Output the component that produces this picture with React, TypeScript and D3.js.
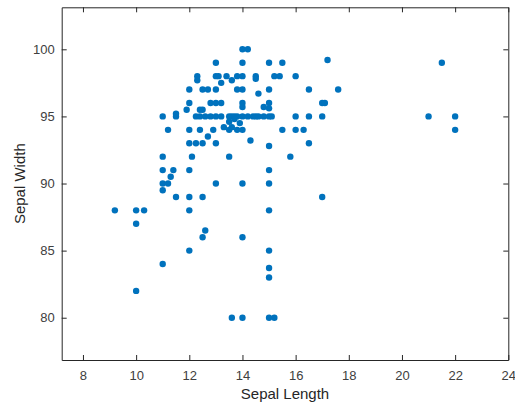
import React, { useEffect, useRef } from "react";
import * as d3 from "d3";

// sepal length / sepal width pairs
const sepalLength = [
  14, 14.2,
  13, 14, 15, 15.5, 17.2, 21.5,
  12.3, 13, 13.1, 13.4, 13.8, 14, 14.5, 15.2, 15.4, 16,
  12.3, 13.6, 14.5, 13.2,
  12, 12.5, 12.7, 13, 13.8, 14, 15, 16.5, 17.6, 14.6,
  12, 12.8, 13, 13.2, 14, 14, 14.8, 15, 15, 17, 17.1,
  11.9, 12.4, 12.5,
  11.5,
  11, 11.5, 12.25, 12.4, 12.6, 12.8, 13, 13.2, 13.5, 13.6, 13.7, 13.8, 14, 14.2, 14.4, 14.5, 14.6, 14.8, 15, 15.1, 16, 16.5, 17, 21, 22,
  13.5, 13.9, 13.3, 13.7, 13.6,
  11.2, 12, 12.4, 12.9, 13.5, 13.8, 14, 15.5, 16, 16.3, 22,
  12.7,
  14.3,
  12, 12.25, 12.5, 13, 16.5,
  15,
  11, 12.1, 13.5, 15.8,
  11, 11.4, 12, 15,
  11.3,
  11, 11.2, 13, 14, 15,
  11,
  11.5, 12, 12.5, 17,
  9.2, 10, 10.3, 12, 15,
  10,
  12.6,
  12.5, 14,
  12, 15,
  11,
  15,
  15,
  10,
  13.6, 14, 15, 15.2,
];

const sepalWidth = [
  100, 100,
  99, 99, 99, 99, 99.2, 99,
  98, 98, 98, 98, 98, 98, 98, 98, 98, 98,
  97.7, 97.7, 97.8, 97.5,
  97, 97, 97, 97, 97, 97, 97, 97, 97, 96.7,
  96, 96, 96, 96, 96, 95.7, 95.7, 96, 95.6, 96, 96,
  95.5, 95.5, 95.5,
  95.2,
  95, 95, 95, 95, 95, 95, 95, 95, 95, 95, 95, 95, 95, 95, 95, 95, 95, 95, 95, 95, 95, 95, 95, 95, 95,
  94.6, 94.5, 94.2, 94.8, 94.2,
  94, 94, 94, 94, 94, 94, 94, 94, 94, 94, 94,
  93.5,
  93.2,
  93, 93, 93, 93, 93,
  92.8,
  92, 92, 92, 92,
  91, 91, 91, 91,
  90.5,
  90, 90, 90, 90, 90,
  89.5,
  89, 89, 89, 89,
  88, 88, 88, 88, 88,
  87,
  86.5,
  86, 86,
  85, 85,
  84,
  83.7,
  83,
  82,
  80, 80, 80, 80,
];

const xTicks = [8, 10, 12, 14, 16, 18, 20, 22, 24];
const yTicks = [80, 85, 90, 95, 100];

const WIDTH = 515;
const HEIGHT = 405;
const MARGIN = { top: 7.3, right: 6.7, bottom: 45, left: 61.7 };

export default function App() {
  const axesRef = useRef<SVGGElement>(null);
  const boundsWidth = WIDTH - MARGIN.left - MARGIN.right;
  const boundsHeight = HEIGHT - MARGIN.top - MARGIN.bottom;

  const xScale = d3.scaleLinear().domain([7.2, 24]).range([0, boundsWidth]);
  const yScale = d3.scaleLinear().domain([76.85, 103.13]).range([boundsHeight, 0]);

  useEffect(() => {
    const g = d3.select(axesRef.current);
    g.selectAll("*").remove();

    const style = (sel: any) => {
      sel.select(".domain").attr("stroke", "#262626");
      sel.selectAll(".tick line").attr("stroke", "#262626");
      sel
        .selectAll(".tick text")
        .attr("fill", "#404040")
        .style("font-family", "Liberation Sans, Arial, sans-serif")
        .style("font-size", "13px");
    };

    g.append("g")
      .attr("transform", `translate(0,${boundsHeight})`)
      .call(d3.axisBottom(xScale).tickValues(xTicks).tickSizeInner(-5).tickSizeOuter(0).tickPadding(11))
      .call(style);
    g.append("g")
      .call(d3.axisTop(xScale).tickValues(xTicks).tickSizeInner(-5).tickSizeOuter(0).tickFormat(() => ""))
      .call(style);
    g.append("g")
      .call(d3.axisLeft(yScale).tickValues(yTicks).tickSizeInner(-5).tickSizeOuter(0).tickPadding(7))
      .call(style);
    g.append("g")
      .attr("transform", `translate(${boundsWidth},0)`)
      .call(d3.axisRight(yScale).tickValues(yTicks).tickSizeInner(-5).tickSizeOuter(0).tickFormat(() => ""))
      .call(style);
    g.selectAll(".domain").attr("stroke-width", 1);
  }, [xScale, yScale, boundsHeight, boundsWidth]);

  return (
    <div style={{ position: "absolute", left: 0, top: 0 }}>
      <svg width={WIDTH} height={HEIGHT} style={{ display: "block", background: "#fff" }}>
        <g transform={`translate(${MARGIN.left},${MARGIN.top})`}>
          {sepalLength.map((x, i) => (
            <circle key={i} cx={xScale(x)} cy={yScale(sepalWidth[i])} r={3.2} fill="#0072BD" />
          ))}
        </g>
        <g ref={axesRef} transform={`translate(${MARGIN.left},${MARGIN.top})`} />
        <text
          x={MARGIN.left + boundsWidth / 2}
          y={399}
          textAnchor="middle"
          fontFamily="Liberation Sans, Arial, sans-serif"
          fontSize={15}
          fill="#262626"
        >
          Sepal Length
        </text>
        <text
          transform={`translate(24.5,${MARGIN.top + boundsHeight / 2}) rotate(-90)`}
          textAnchor="middle"
          fontFamily="Liberation Sans, Arial, sans-serif"
          fontSize={15}
          fill="#262626"
        >
          Sepal Width
        </text>
      </svg>
    </div>
  );
}
